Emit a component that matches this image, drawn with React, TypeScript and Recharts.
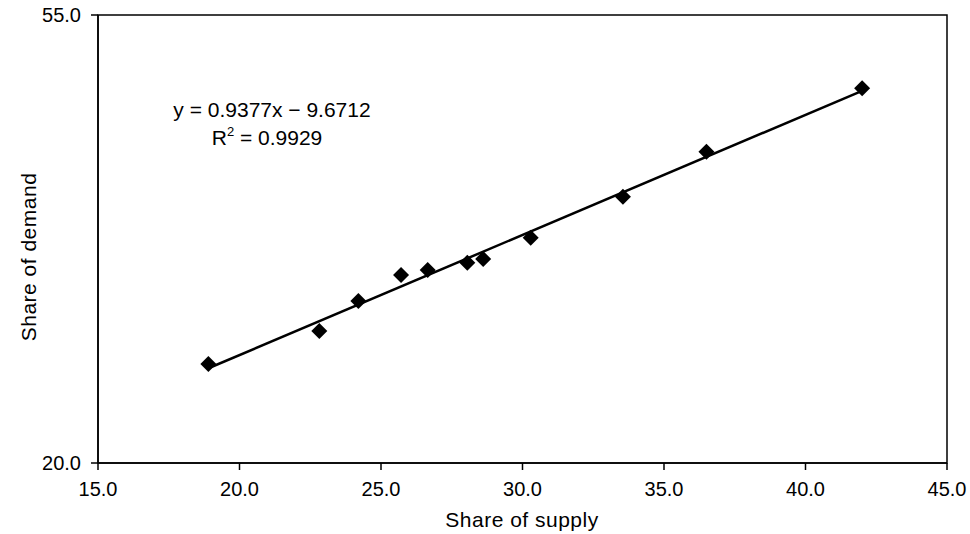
import React from 'react';
import { ScatterChart, Scatter, XAxis, YAxis, ReferenceArea } from 'recharts';

const supply = [18.9, 22.82, 24.2, 25.71, 26.65, 28.05, 28.61, 30.29, 33.55, 36.5, 42.0];
const demand = [27.73, 30.31, 32.66, 34.69, 35.08, 35.65, 35.94, 37.6, 40.8, 44.32, 49.27];
const xTicks = [15, 20, 25, 30, 35, 40, 45];
const yTicks = [20, 55];
const equationText = 'y = 0.9377x \u2212 9.6712';
const r2Text = '0.9929';
const xTitle = 'Share of supply';
const yTitle = 'Share of demand';

const points = supply.map((x, i) => ({ x, y: demand[i] }));

// least-squares trend line from the data
const n = supply.length;
const mx = supply.reduce((a, b) => a + b, 0) / n;
const my = demand.reduce((a, b) => a + b, 0) / n;
let sxy = 0;
let sxx = 0;
for (let i = 0; i < n; i++) {
  sxy += (supply[i] - mx) * (demand[i] - my);
  sxx += (supply[i] - mx) * (supply[i] - mx);
}
const slope = sxy / sxx;
const intercept = my - slope * mx;
const xMin = Math.min(...supply);
const xMax = Math.max(...supply);
const trend = [
  { x: xMin, y: slope * xMin + intercept },
  { x: xMax, y: slope * xMax + intercept },
];

const Diamond = (props: any) => {
  const { cx, cy } = props;
  if (cx == null || cy == null) return <g />;
  const r = 8;
  return (
    <polygon
      points={`${cx},${cy - r} ${cx + r},${cy} ${cx},${cy + r} ${cx - r},${cy}`}
      fill="#000"
    />
  );
};

const NoShape = () => <g />;

const font = '"Liberation Sans", Arial, Helvetica, sans-serif';

const XTick = (props: any) => {
  const { x, y, payload } = props;
  return (
    <text x={x} y={y + 21} textAnchor="middle" fontSize={20} fontFamily={font} fill="#000">
      {Number(payload.value).toFixed(1)}
    </text>
  );
};

const YTick = (props: any) => {
  const { x, y, payload } = props;
  return (
    <text x={x} y={y + 7} textAnchor="end" fontSize={20} fontFamily={font} fill="#000">
      {Number(payload.value).toFixed(1)}
    </text>
  );
};

export default function App() {
  return (
    <div style={{ position: 'absolute', left: 0, top: 0, width: 970, height: 534, background: '#fff' }}>
      <ScatterChart
        width={970}
        height={534}
        margin={{ top: 15, right: 23, bottom: 0, left: 0 }}
        style={{ fontFamily: font }}
      >
        <XAxis
          type="number"
          dataKey="x"
          domain={[15, 45]}
          ticks={xTicks}
          height={71}
          tickSize={7}
          tickMargin={5}
          axisLine={{ stroke: '#000', strokeWidth: 1.5 }}
          tickLine={{ stroke: '#000', strokeWidth: 1.5 }}
          tick={XTick}
          allowDataOverflow
        />
        <YAxis
          type="number"
          dataKey="y"
          domain={[20, 55]}
          ticks={yTicks}
          width={98}
          tickSize={7}
          tickMargin={10}
          axisLine={{ stroke: '#000', strokeWidth: 1.5 }}
          tickLine={{ stroke: '#000', strokeWidth: 1.5 }}
          tick={YTick}
          allowDataOverflow
        />
        <ReferenceArea x1={15} x2={45} y1={20} y2={55} fill="none" fillOpacity={0} stroke="#000" strokeWidth={1.5} />
        <Scatter
          data={trend}
          line={{ stroke: '#000', strokeWidth: 2.5 }}
          shape={NoShape}
          isAnimationActive={false}
          legendType="none"
        />
        <Scatter data={points} shape={Diamond} fill="#000" isAnimationActive={false} />
      </ScatterChart>
      <svg
        width={970}
        height={534}
        style={{ position: 'absolute', left: 0, top: 0, pointerEvents: 'none' }}
      >
        <text x={272} y={117} textAnchor="middle" fontSize={21} fontFamily={font} fill="#000">
          {equationText}
        </text>
        <text x={267} y={145} textAnchor="middle" fontSize={21} fontFamily={font} fill="#000">
          R
          <tspan dy={-9} fontSize={13}>2</tspan>
          <tspan dy={9}>{' = ' + r2Text}</tspan>
        </text>
        <text
          x={522}
          y={527}
          textAnchor="middle"
          fontSize={21}
          letterSpacing={0.5}
          fontFamily={font}
          fill="#000"
        >
          {xTitle}
        </text>
        <text
          x={36}
          y={257}
          textAnchor="middle"
          fontSize={21}
          letterSpacing={0.5}
          fontFamily={font}
          fill="#000"
          transform="rotate(-90, 36, 257)"
        >
          {yTitle}
        </text>
      </svg>
    </div>
  );
}
